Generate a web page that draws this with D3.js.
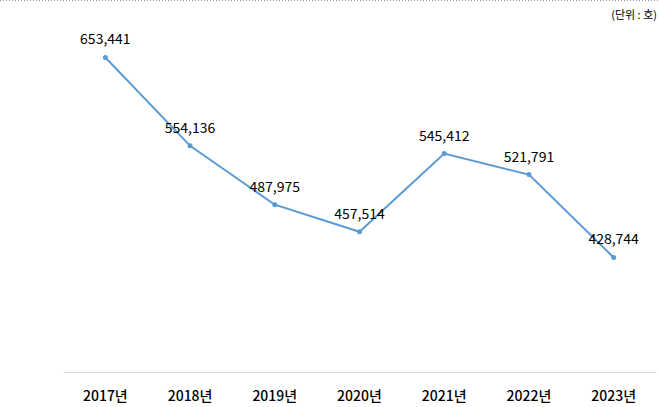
<!DOCTYPE html>
<html>
<head>
<meta charset="utf-8">
<script src="https://cdn.jsdelivr.net/npm/d3@7"></script>
<style>
	body { margin: 0; background: #fff; }
	svg { display: block; font-family: "Noto Sans CJK KR", "Noto Sans", sans-serif; }
</style>
</head>
<body>
<div id="chart"></div>
<script>
'use strict';

const years = ["2017년", "2018년", "2019년", "2020년", "2021년", "2022년", "2023년"];
const houses = [653441, 554136, 487975, 457514, 545412, 521791, 428744];
const unit_label = "(단위 : 호)";

const width = 659;
const height = 407;

const margin = {
	top: 16,
	right: 3,
	bottom: 35,
	left: 63 };

const svg = d3.select("#chart")
	.append("svg")
		.attr("width", width)
		.attr("height", height);

// dotted border at top
svg.append("line")
	.attr("x1", 0).attr("x2", width)
	.attr("y1", 0.5).attr("y2", 0.5)
	.attr("stroke", "#999")
	.attr("stroke-dasharray", "1,2");

const x = d3.scaleBand()
	.domain(years)
	.range([margin.left, width - margin.right]);

const y = d3.scaleLinear()
	.domain([300000, 700000])
	.range([height - margin.bottom, margin.top]);

// x axis
const xAxis = g => g
	.attr("transform", `translate(0,${height - margin.bottom})`)
	.call(d3.axisBottom(x).tickSize(0).tickPadding(19))
	.call(g => g.select(".domain").attr("stroke", "#d9d9d9"))
	.call(g => g.selectAll("text")
		.attr("font-size", 14)
		.attr("font-weight", 500)
		.attr("fill", "#000")
		.attr("font-family", "\"Noto Sans CJK KR\", sans-serif"));

svg.append("g")
	.attr("class", "x-axis")
	.call(xAxis);

const line = d3.line()
	.x((d, i) => x(years[i]) + x.bandwidth() / 2)
	.y(d => y(d));

svg.append("path")
	.datum(houses)
	.attr("fill", "none")
	.attr("stroke", "#5b9bd5")
	.attr("stroke-width", 2)
	.attr("d", line);

svg.append("g")
	.selectAll("circle")
	.data(houses)
	.join("circle")
		.attr("cx", (d, i) => x(years[i]) + x.bandwidth() / 2)
		.attr("cy", d => y(d))
		.attr("r", 2.5)
		.attr("fill", "#5b9bd5");

svg.append("g")
	.selectAll("text")
	.data(houses)
	.join("text")
		.attr("x", (d, i) => x(years[i]) + x.bandwidth() / 2)
		.attr("y", d => y(d) - 13)
		.attr("text-anchor", "middle")
		.attr("font-size", 14)
		.attr("fill", "#000")
		.text(d => d3.format(",")(d));

svg.append("text")
	.attr("x", width - 2)
	.attr("y", 19)
	.attr("text-anchor", "end")
	.attr("font-size", 11)
	.attr("fill", "#000")
	.text(unit_label);
</script>
</body>
</html>
